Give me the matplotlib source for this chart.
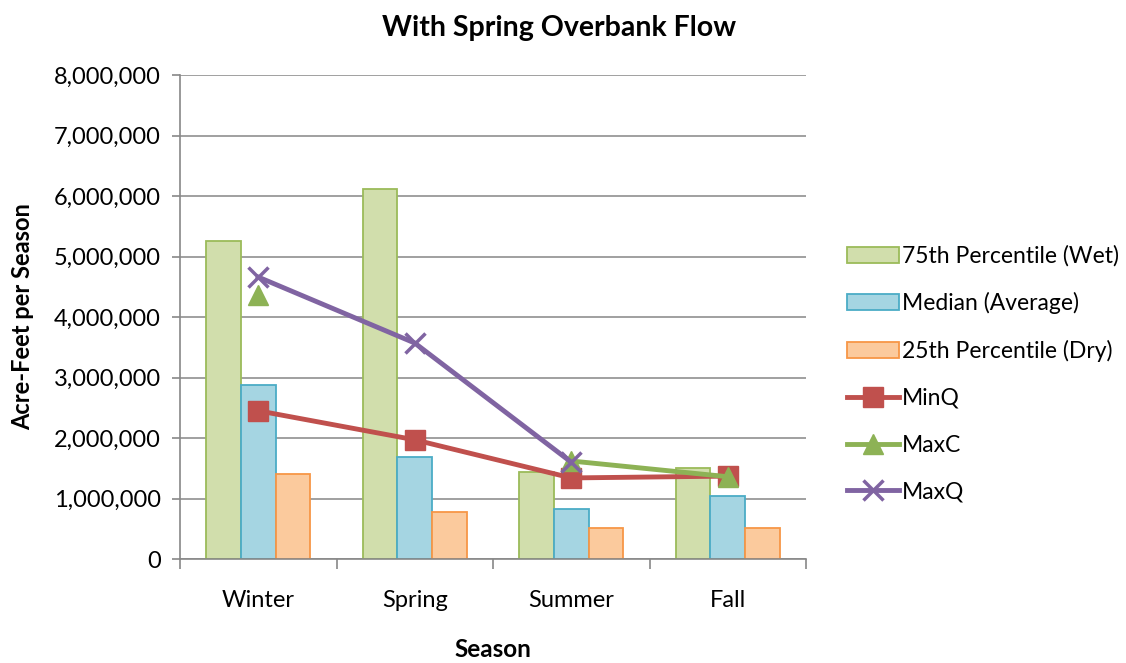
import numpy as np
import matplotlib
matplotlib.use("Agg")
import matplotlib.pyplot as plt
from matplotlib.ticker import FuncFormatter, FixedLocator

plt.rcParams['font.family'] = ['Lato', 'DejaVu Sans']

seasons = ["Winter", "Spring", "Summer", "Fall"]
wet75 = [5260000, 6120000, 1440000, 1500000]
median = [2880000, 1690000, 830000, 1040000]
dry25 = [1400000, 780000, 510000, 510000]
minq = [2450000, 1970000, 1340000, 1370000]
maxc = [4360000, np.nan, 1620000, 1360000]
maxq = [4660000, 3570000, 1600000, np.nan]

fig = plt.figure(figsize=(11.26, 6.63), dpi=100)
ax = fig.add_axes([180/1126, 1-559/663, (806-180)/1126, (559-75)/663])

x = np.arange(len(seasons))
w = 1/4.5
b1 = ax.bar(x - w, wet75, w, color="#D1DEAC", edgecolor="#9BBB59", linewidth=1.3, label="75th Percentile (Wet)", zorder=2)
b2 = ax.bar(x, median, w, color="#A5D5E2", edgecolor="#4BACC6", linewidth=1.3, label="Median (Average)", zorder=2)
b3 = ax.bar(x + w, dry25, w, color="#FBCA9D", edgecolor="#F79646", linewidth=1.3, label="25th Percentile (Dry)", zorder=2)
l1, = ax.plot(x, minq, color="#C0504D", lw=3.5, marker="s", ms=14, label="MinQ", zorder=3)
l2, = ax.plot(x, maxc, color="#8DB255", lw=3.5, marker="^", ms=14, label="MaxC", zorder=3)
l3, = ax.plot(x, maxq, color="#8064A2", lw=3.5, marker="x", ms=15, mew=2.5, label="MaxQ", zorder=4)

ax.set_xlim(-0.5, 3.5)
ax.set_ylim(0, 8000000)
ax.set_yticks(np.arange(0, 8000001, 1000000))
ax.yaxis.set_major_formatter(FuncFormatter(lambda v, p: f"{int(v):,}"))
ax.set_xticks(x)
ax.set_xticklabels(seasons)
ax.xaxis.set_minor_locator(FixedLocator(np.arange(-0.5, 3.6, 1)))
ax.tick_params(axis="x", which="major", length=0, pad=22, labelsize=17)
ax.tick_params(axis="x", which="minor", length=7, color="#888888", width=1.2)
ax.tick_params(axis="y", length=6, color="#888888", width=1.2, labelsize=17, pad=8)
ax.grid(axis="y", color="#999999", lw=1.3, zorder=0)
ax.set_axisbelow(True)
for s in ["top", "right"]:
    ax.spines[s].set_visible(False)
for s in ["left", "bottom"]:
    ax.spines[s].set_color("#888888")
    ax.spines[s].set_linewidth(1.2)

fig.text(559/1126, 1-28/663, "With Spring Overbank Flow", fontsize=20.5, fontweight="bold",
         ha="center", va="center")
ax.set_xlabel("Season", fontsize=17.5, fontweight="bold", labelpad=20)
ax.set_ylabel("Acre-Feet per Season", fontsize=17, fontweight="bold", labelpad=14)

fig.legend([b1, b2, b3, l1, l2, l3],
           ["75th Percentile (Wet)", "Median (Average)", "25th Percentile (Dry)", "MinQ", "MaxC", "MaxQ"],
           loc="upper left", bbox_to_anchor=(838/1126, 1-236/663), frameon=False,
           fontsize=16.5, labelspacing=1.12, handlelength=2.25, handletextpad=0.15,
           borderaxespad=0)

fig.savefig("out.png", dpi=100)
